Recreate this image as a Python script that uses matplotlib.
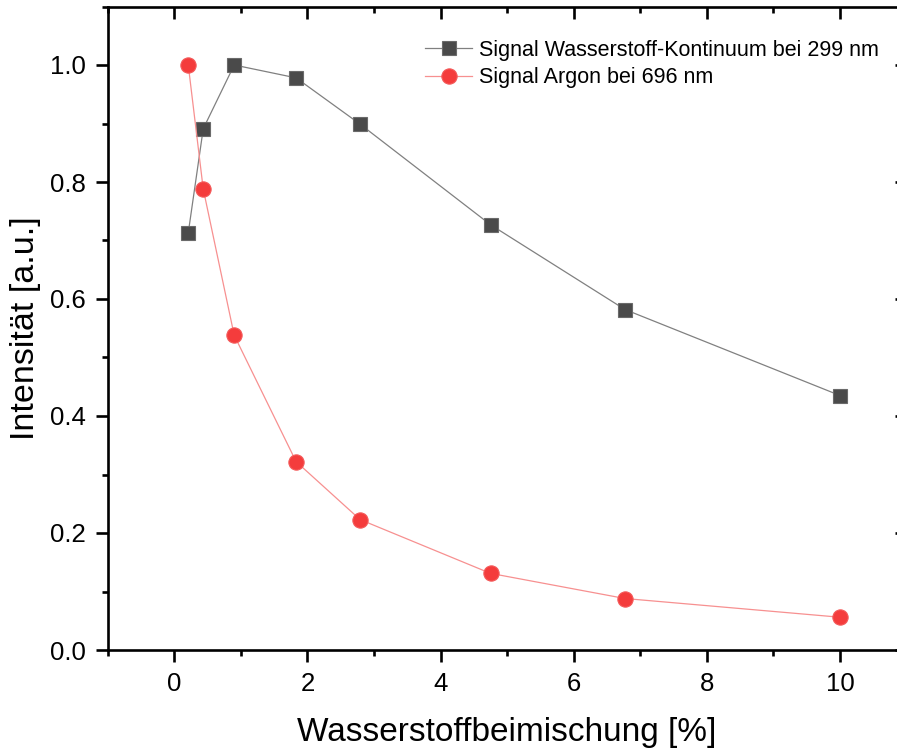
import matplotlib
matplotlib.use("Agg")
import matplotlib.pyplot as plt
from matplotlib.ticker import MultipleLocator

plt.rcParams['font.family'] = ['Liberation Sans', 'DejaVu Sans']

# Data
h2_percent = [0.21, 0.435, 0.90, 1.83, 2.79, 4.75, 6.77, 10.0]
signal_h2 = [0.713, 0.891, 1.0, 0.978, 0.899, 0.727, 0.582, 0.435]
signal_ar = [1.0, 0.788, 0.538, 0.322, 0.223, 0.131, 0.088, 0.056]
label_h2 = "Signal Wasserstoff-Kontinuum bei 299 nm"
label_ar = "Signal Argon bei 696 nm"
xlabel = "Wasserstoffbeimischung [%]"
ylabel = "Intensität [a.u.]"

W, H = 897, 754
fig = plt.figure(figsize=(W / 100, H / 100), dpi=100)
left, right, bottom, top = 107.7, 906.6, 650, 6.5
ax = fig.add_axes([left / W, 1 - bottom / H, (right - left) / W, (bottom - top) / H])

ax.plot(h2_percent, signal_h2, color='#808080', lw=0.9, marker='s', ms=9.5,
        mfc='#4a4a4a', mec='#6a6a6a', mew=0.8, label=label_h2, zorder=3)
ax.plot(h2_percent, signal_ar, color='#f79090', lw=0.9, marker='o', ms=11,
        mfc='#f43c3c', mec='#f45a5a', mew=0.8, label=label_ar, zorder=3)

ax.set_xlim(-1, 11)
ax.set_ylim(0, 1.1)
ax.xaxis.set_minor_locator(MultipleLocator(1))
ax.yaxis.set_minor_locator(MultipleLocator(0.1))
ax.set_xticks([0, 2, 4, 6, 8, 10])
ax.set_xticklabels(['0', '2', '4', '6', '8', '10'])
ax.set_yticks([0.0, 0.2, 0.4, 0.6, 0.8, 1.0])
ax.set_yticklabels(['0.0', '0.2', '0.4', '0.6', '0.8', '1.0'])

for s in ax.spines.values():
    s.set_linewidth(1.9)
    s.set_capstyle('projecting')

ax.tick_params(which='both', direction='out', top=False, right=False, width=1.9, labelsize=18.5)
ax.tick_params(axis='x', pad=7.5)
ax.tick_params(axis='y', pad=7)
ax.tick_params(which='major', length=8.5)
ax.tick_params(which='minor', length=4)

# top/right inward ticks
axt = ax.twiny()
axt.set_xlim(ax.get_xlim())
axt.xaxis.set_major_locator(MultipleLocator(2))
axt.xaxis.set_minor_locator(MultipleLocator(1))
axt.tick_params(which='both', direction='in', width=1.9, labeltop=False)
axt.tick_params(which='major', length=8.5)
axt.tick_params(which='minor', length=4)
axr = ax.twinx()
axr.set_ylim(ax.get_ylim())
axr.yaxis.set_major_locator(MultipleLocator(0.2))
axr.yaxis.set_minor_locator(MultipleLocator(0.1))
axr.tick_params(which='both', direction='in', width=1.9, labelright=False)
axr.tick_params(which='major', length=8.5)
axr.tick_params(which='minor', length=4)
for a in (axt, axr):
    for s in a.spines.values():
        s.set_visible(False)

ax.set_xlabel(xlabel, fontsize=24, labelpad=15)
ax.set_ylabel(ylabel, fontsize=24.5, labelpad=7)

ax.legend(loc='upper left', bbox_to_anchor=(425 / W, 1 - 40 / H), bbox_transform=fig.transFigure,
          frameon=False, fontsize=15.5, handlelength=2.2, handletextpad=0.3,
          labelspacing=0.3, borderpad=0, borderaxespad=0)

fig.savefig("out.png", dpi=100)
